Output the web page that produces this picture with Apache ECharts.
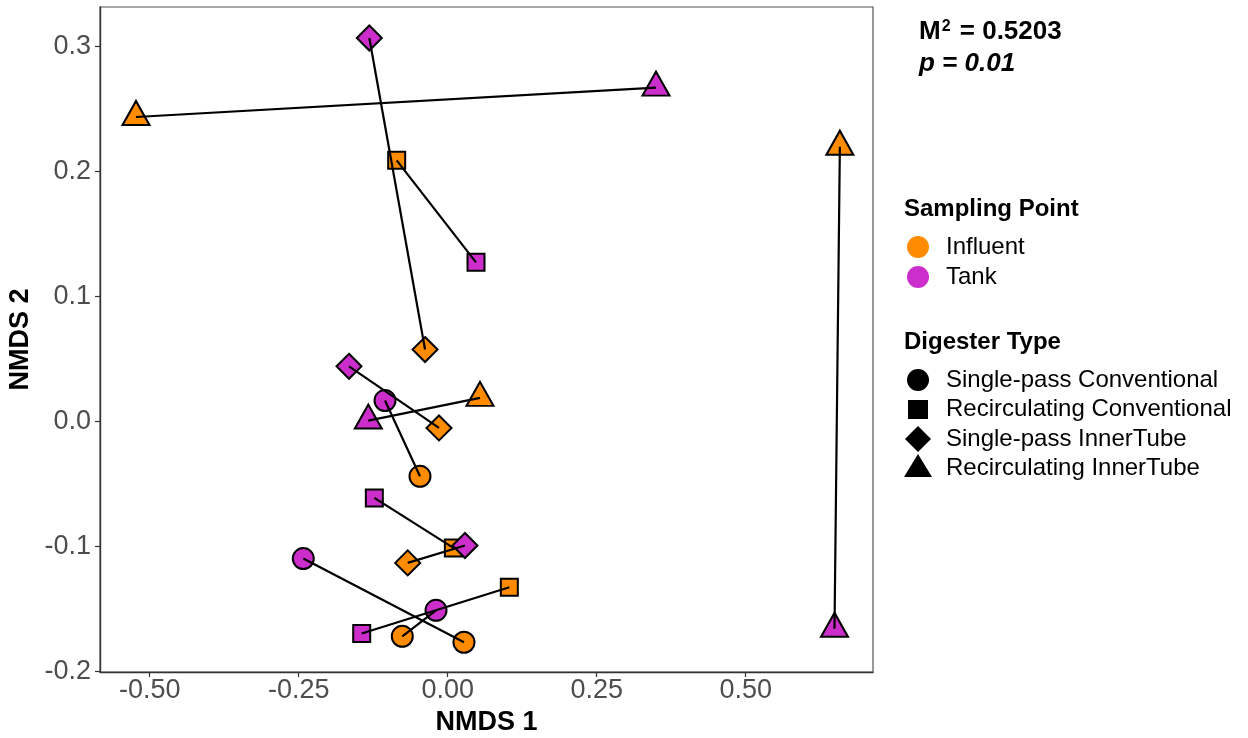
<!DOCTYPE html>
<html>
<head>
<meta charset="utf-8">
<script src="https://cdn.jsdelivr.net/npm/echarts@6/dist/echarts.min.js"></script>
<style>
html,body{margin:0;padding:0;background:#fff;}
#chart{width:1248px;height:738px;}
</style>
</head>
<body>
<div id="chart"></div>
<script>
// ---- data ----
const digesterTypes = ['Single-pass Conventional', 'Recirculating Conventional', 'Single-pass InnerTube', 'Recirculating InnerTube'];
const samplingPoints = ['Influent', 'Tank'];
// one entry per digester (pair of samples); index into digesterTypes
const pairType = [3, 2, 1, 2, 0, 3, 1, 2, 0, 1, 0, 3];
const influentX = [-0.523, -0.038, -0.0856, -0.0146, -0.0465, 0.0542, 0.0095, -0.0671, 0.0273, 0.1034, -0.0762, 0.658];
const influentY = [0.2435, 0.0574, 0.2088, -0.0053, -0.044, 0.0187, -0.1013, -0.1133, -0.1768, -0.1328, -0.172, 0.2197];
const tankX = [0.3495, -0.1315, 0.0475, -0.1656, -0.1052, -0.1332, -0.1231, 0.029, -0.2423, -0.1443, -0.0196, 0.649];
const tankY = [0.267, 0.3067, 0.1272, 0.044, 0.0166, 0.0006, -0.0613, -0.0994, -0.1098, -0.1698, -0.1512, -0.166];
const xTicks = [-0.5, -0.25, 0, 0.25, 0.5];
const yTicks = [-0.2, -0.1, 0, 0.1, 0.2, 0.3];
const statM2 = '0.5203';
const statP = '0.01';

// ---- styling ----
const FONT = '"Liberation Sans", Arial, sans-serif';
const colors = { Influent: '#FF8C00', Tank: '#CC2ECC' };
const shapeStyle = [
  { symbol: 'circle', size: 21, offset: [0, 0] },
  { symbol: 'rect', size: 17, offset: [0, 0] },
  { symbol: 'diamond', size: [25, 25], offset: [0, 0] },
  { symbol: 'triangle', size: [27, 24], offset: [0, -4] }
];

function pointData(xs, ys) {
  return xs.map((x, i) => {
    const s = shapeStyle[pairType[i]];
    return { value: [x, ys[i]], symbol: s.symbol, symbolSize: s.size, symbolOffset: s.offset };
  });
}

const segData = influentX.map((x, i) => ({ coords: [[x, influentY[i]], [tankX[i], tankY[i]]] }));

// legend graphics
const LX = 918, TX = 946;
const legendGraphics = [
  { type: 'text', left: 904, top: 197, style: { text: 'Sampling Point', font: 'bold 24px ' + FONT, fill: '#000' } },
  { type: 'circle', shape: { cx: LX, cy: 247, r: 11 }, style: { fill: colors.Influent } },
  { type: 'circle', shape: { cx: LX, cy: 277, r: 11 }, style: { fill: colors.Tank } },
  { type: 'text', x: TX, y: 247, style: { text: samplingPoints[0], font: '24px ' + FONT, fill: '#000', verticalAlign: 'middle' } },
  { type: 'text', x: TX, y: 277, style: { text: samplingPoints[1], font: '24px ' + FONT, fill: '#000', verticalAlign: 'middle' } },
  { type: 'text', left: 904, top: 330, style: { text: 'Digester Type', font: 'bold 24px ' + FONT, fill: '#000' } },
  { type: 'circle', shape: { cx: LX, cy: 380, r: 11 }, style: { fill: '#000' } },
  { type: 'rect', shape: { x: LX - 10, y: 400, width: 20, height: 19 }, style: { fill: '#000' } },
  { type: 'polygon', shape: { points: [[LX, 426], [LX + 13, 439], [LX, 452], [LX - 13, 439]] }, style: { fill: '#000' } },
  { type: 'polygon', shape: { points: [[LX, 454], [LX + 14, 477], [LX - 14, 477]] }, style: { fill: '#000' } }
];
[380, 409, 439, 468].forEach((y, i) => {
  legendGraphics.push({ type: 'text', x: TX, y: y, style: { text: digesterTypes[i], font: '24px ' + FONT, fill: '#000', verticalAlign: 'middle' } });
});
legendGraphics.push({
  type: 'text', left: 919, top: 16,
  style: {
    rich: {
      b: { font: 'bold 26px ' + FONT, fill: '#000', lineHeight: 32 },
      s: { font: 'bold 16px ' + FONT, fill: '#000', lineHeight: 32, verticalAlign: 'top', padding: [3, 2, 0, 1] },
      i: { font: 'italic bold 26px ' + FONT, fill: '#000', lineHeight: 32 }
    },
    text: '{b|M}{s|2}{b| = ' + statM2 + '}\n{i|p = ' + statP + '}'
  }
});

const chart = echarts.init(document.getElementById('chart'), null, { renderer: 'canvas' });
chart.setOption({
  backgroundColor: '#fff',
  animation: false,
  textStyle: { fontFamily: FONT },
  grid: {
    left: 100, right: 375, top: 7, bottom: 66,
    outerBoundsMode: 'none', containLabel: false,
    show: true, borderColor: '#555', borderWidth: 1.2, backgroundColor: 'transparent'
  },
  xAxis: {
    type: 'value', min: -0.5834, max: 0.7136,
    name: 'NMDS 1', nameLocation: 'middle', nameGap: 34,
    nameTextStyle: { fontSize: 27, fontWeight: 'bold', color: '#000', fontFamily: FONT },
    splitLine: { show: false },
    axisLine: { show: true, onZero: false, lineStyle: { color: '#333', width: 1.4 } },
    axisTick: { show: true, length: 5, customValues: xTicks, lineStyle: { color: '#333', width: 1.2 } },
    axisLabel: { customValues: xTicks, fontSize: 27, color: '#4D4D4D', margin: 5, formatter: v => v.toFixed(2) }
  },
  yAxis: {
    type: 'value', min: -0.2006, max: 0.3315,
    name: 'NMDS 2', nameLocation: 'middle', nameGap: 64, nameRotate: 90,
    nameTextStyle: { fontSize: 27, fontWeight: 'bold', color: '#000', fontFamily: FONT },
    splitLine: { show: false },
    axisLine: { show: true, onZero: false, lineStyle: { color: '#333', width: 1.4 } },
    axisTick: { show: true, length: 5, customValues: yTicks, lineStyle: { color: '#333', width: 1.2 } },
    axisLabel: { customValues: yTicks, fontSize: 27, color: '#4D4D4D', margin: 9, formatter: v => v.toFixed(1) }
  },
  series: [
    {
      name: 'Influent', type: 'scatter', z: 2,
      itemStyle: { color: colors.Influent, borderColor: '#000', borderWidth: 2, opacity: 1 },
      data: pointData(influentX, influentY)
    },
    {
      name: 'Tank', type: 'scatter', z: 2,
      itemStyle: { color: colors.Tank, borderColor: '#000', borderWidth: 2, opacity: 1 },
      data: pointData(tankX, tankY)
    },
    {
      name: 'pairs', type: 'lines', coordinateSystem: 'cartesian2d', z: 3,
      lineStyle: { color: '#000', width: 2.2, opacity: 1 },
      data: segData
    }
  ],
  graphic: legendGraphics
});
</script>
</body>
</html>
